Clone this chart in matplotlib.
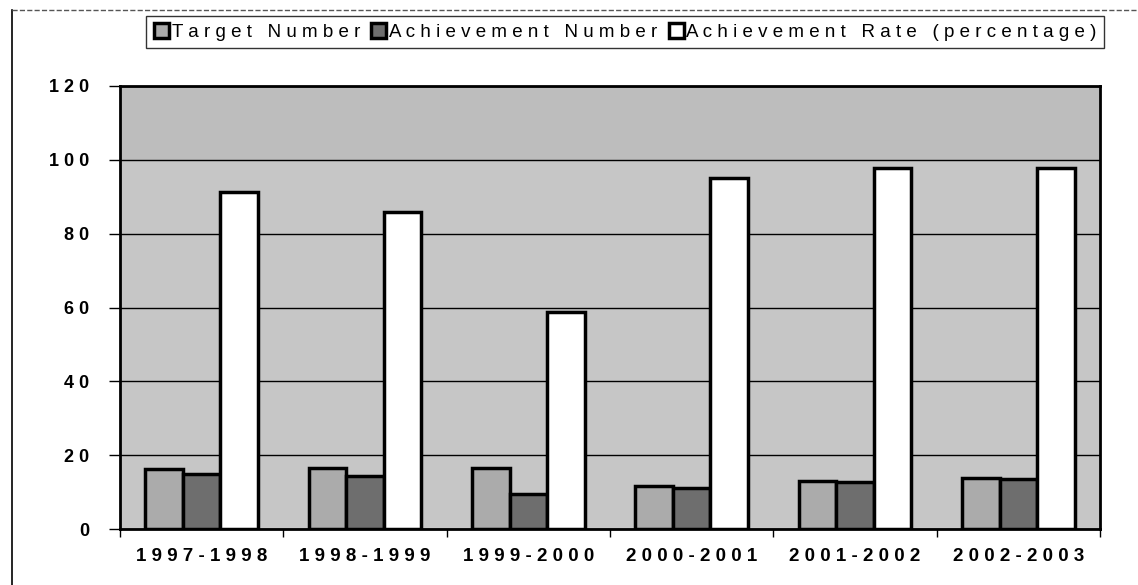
import numpy as np
import matplotlib.pyplot as plt
from matplotlib.lines import Line2D
from matplotlib import rcParams
rcParams['font.family'] = 'Liberation Sans'

years = ['1997-1998', '1998-1999', '1999-2000', '2000-2001', '2001-2002', '2002-2003']
target = [16.2, 16.4, 16.4, 11.6, 12.9, 13.8]
achieved = [14.8, 14.3, 9.5, 11.1, 12.7, 13.5]
rate = [91.2, 85.8, 58.8, 95.1, 97.8, 97.8]
labels = ['Target Number', 'Achievement Number', 'Achievement Rate (percentage)']

def spaced(s):
    return ' '.join(s)

fig = plt.figure(figsize=(11.38, 5.85), dpi=100)
ax = fig.add_axes([120/1138, 1-529/585, 980/1138, 443/585])
ax.set_facecolor('#c6c6c6')
# slightly darker band at the top of the plot area
ax.axhspan(100, 120, color='#bdbdbd', zorder=0)

x = np.arange(len(years))
w = 0.23
bars1 = ax.bar(x - w, target, w, color='#ababab', edgecolor='black', linewidth=2.5, zorder=3)
bars2 = ax.bar(x, achieved, w, color='#6e6e6e', edgecolor='black', linewidth=2.5, zorder=3)
bars3 = ax.bar(x + w, rate, w, color='white', edgecolor='black', linewidth=2.5, zorder=3)

ax.set_xlim(-0.5, len(years) - 0.5)
ax.set_ylim(0, 120)
ax.set_yticks(range(0, 121, 20))
ax.set_yticklabels([spaced(str(v)) for v in range(0, 121, 20)], fontsize=13, fontweight='bold')
ax.yaxis.grid(True, color='black', linewidth=1.0, zorder=1)
ax.set_axisbelow(True)

ax.set_xticks(x)
ax.set_xticklabels([spaced(y) for y in years], fontsize=13.5, fontweight='bold')
ax.set_xticks(np.arange(-0.5, len(years), 1), minor=True)
ax.tick_params(axis='x', which='major', length=0, pad=14)
ax.tick_params(axis='x', which='minor', length=6, width=1)
ax.tick_params(axis='y', length=8, width=1, pad=14)

for s in ax.spines.values():
    s.set_linewidth(2)

leg = fig.legend(handles=[bars1, bars2, bars3], labels=[spaced(l) for l in labels],
                 loc='center left', bbox_to_anchor=(137/1138, 1-32/585),
                 ncol=3, frameon=True, fancybox=False, edgecolor='black',
                 prop={'size': 13.5}, handlelength=0.8, handleheight=0.8,
                 handletextpad=0.15, columnspacing=0.6, borderpad=0.4)
leg.get_frame().set_linewidth(1)

# outer frame of the pasted chart
fig.add_artist(Line2D([12/1138, 12/1138], [0, 1-10/585], transform=fig.transFigure, color='black', lw=1.2))
fig.add_artist(Line2D([12/1138, 1], [1-10/585, 1-10/585], transform=fig.transFigure, color='#555555', lw=1, ls='--'))

fig.savefig('out.png', dpi=100)
